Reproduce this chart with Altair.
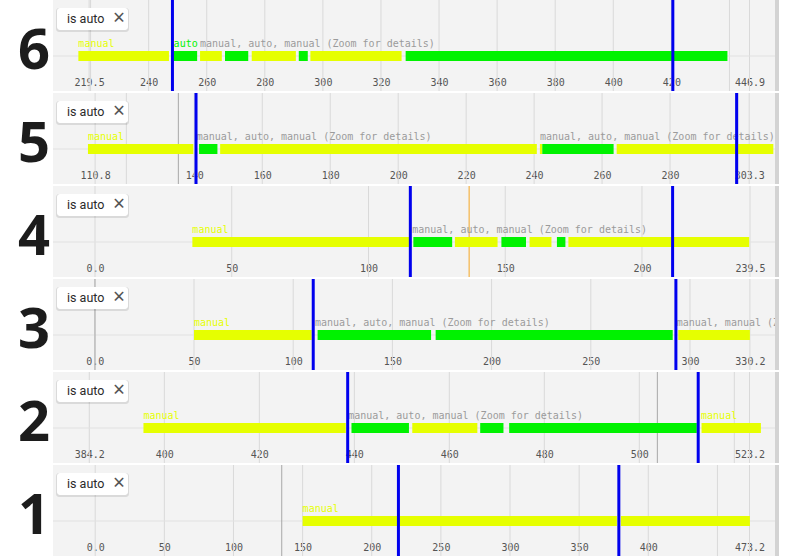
import altair as alt
import pandas as pd

# ---------------- data ----------------
PANEL_IDS = ["6", "5", "4", "3", "2", "1"]

EXT = {
    "6": (219.5, 446.9),
    "5": (110.8, 303.3),
    "4": (0.0, 239.5),
    "3": (0.0, 330.2),
    "2": (384.2, 523.2),
    "1": (0.0, 473.2),
}

TICKS = {
    "6": [219.5, 220, 240, 260, 280, 300, 320, 340, 360, 380, 400, 420, 440, 446.9],
    "5": [110.8, 120, 140, 160, 180, 200, 220, 240, 260, 280, 300, 303.3],
    "4": [0, 50, 100, 150, 200, 239.5],
    "3": [0, 50, 100, 150, 200, 250, 300, 330.2],
    "2": [384.2, 400, 420, 440, 460, 480, 500, 520, 523.2],
    "1": [0, 50, 100, 150, 200, 250, 300, 350, 400, 450, 473.2],
}
HIDDEN_LABELS = {"6": [220, 440], "5": [120, 300], "4": [], "3": [], "2": [520], "1": [450]}

SEG_6 = [(215.8, 247.0, "manual"), (248.6, 256.7, "auto"), (257.7, 265.2, "manual"),
         (266.3, 274.3, "auto"), (275.5, 290.7, "manual"), (291.7, 294.8, "auto"),
         (295.7, 327.1, "manual"), (328.5, 439.3, "auto")]
SEG_5 = [(108.7, 139.7, "manual"), (141.4, 146.8, "auto"), (147.6, 240.8, "manual"),
         (241.7, 242.4, "manual"), (242.4, 263.4, "auto"), (264.3, 310.4, "manual")]
SEG_4 = [(35.6, 114.8, "manual"), (116.4, 130.6, "auto"), (131.6, 147.2, "manual"),
         (148.6, 157.6, "auto"), (158.9, 166.9, "manual"), (168.9, 172.0, "auto"),
         (173.1, 239.2, "manual")]
SEG_3 = [(50.0, 109.3, "manual"), (112.3, 169.5, "auto"), (171.8, 291.3, "auto"),
         (294.1, 330.2, "manual")]
SEG_2 = [(395.6, 438.2, "manual"), (439.4, 451.5, "auto"), (452.2, 465.9, "manual"),
         (466.5, 471.4, "auto"), (472.6, 512.1, "auto"), (513.1, 525.6, "manual")]
SEG_1 = [(150.0, 377.3, "manual"), (380.2, 473.5, "manual")]
SEGMENTS = {"6": SEG_6, "5": SEG_5, "4": SEG_4, "3": SEG_3, "2": SEG_2, "1": SEG_1}

MIXED = "manual, auto, manual (Zoom for details)"
LABELS = {
    "6": [(215.8, "manual", "manual"), (248.6, "auto", "auto"), (257.7, MIXED, "mixed")],
    "5": [(108.7, "manual", "manual"), (140.7, MIXED, "mixed"), (241.7, MIXED, "mixed")],
    "4": [(35.6, "manual", "manual"), (116.0, MIXED, "mixed")],
    "3": [(50.0, "manual", "manual"), (111.0, MIXED, "mixed"),
          (293.3, "manual, manual (Zoom for details)", "mixed")],
    "2": [(395.6, "manual", "manual"), (438.7, MIXED, "mixed"), (513.0, "manual", "manual")],
    "1": [(150.0, "manual", "manual")],
}

CURSORS = {"6": [248.2, 420.5], "5": [140.5, 299.6], "4": [115.3, 211.2],
           "3": [110.1, 292.9], "2": [438.6, 512.4], "1": [219.3, 378.7]}

GRAY_MARKERS = {"6": [], "5": [135.3], "4": [], "3": [0.1], "2": [503.8], "1": [134.9]}
ORANGE_MARKERS = {"6": [], "5": [], "4": [136.8], "3": [], "2": [], "1": []}

# ---------------- layout / style ----------------
PANEL_LEFT = 53
PW, PH = 726, 91
PIX_RANGE = {"6": (89.1, 749.5), "5": (95.1, 749.2), "4": (95.0, 750.0),
             "3": (94.8, 749.9), "2": (89.3, 749.5), "1": (95.2, 749.5)}
YELLOW = "#e6ff00"
GREEN = "#00f200"
GRAY_TXT = "#9b9b9b"
BLUE = "#0000ee"
MONO = "DejaVu Sans Mono"

one = pd.DataFrame({"k": [0]})


def panel(pid):
    lo, hi = EXT[pid]
    r0, r1 = PIX_RANGE[pid]
    hidden = "[" + ",".join(str(h) for h in HIDDEN_LABELS[pid]) + "]"
    label_expr = (f"indexof({hidden}, datum.value) >= 0 ? '' : "
                  f"((datum.value == {lo} || datum.value == {hi}) ? format(datum.value, '.1f') : format(datum.value, 'd'))")
    axis = alt.Axis(values=TICKS[pid], labelExpr=label_expr, title=None, ticks=False,
                    domain=False, grid=False,
                    labelFont=MONO, labelFontSize=10, labelColor="#555555",
                    labelFlush=False, labelOverlap=False, labelPadding=0,
                    labelBaseline="middle", offset=-9)
    scale = alt.Scale(domain=[lo, hi], range=[r0 - PANEL_LEFT, r1 - PANEL_LEFT],
                      zero=False, nice=False)
    cscale = alt.Scale(domain=["manual", "auto", "mixed"], range=[YELLOW, GREEN, GRAY_TXT])

    segs = pd.DataFrame(SEGMENTS[pid], columns=["start", "end", "mode"])
    labs = pd.DataFrame(LABELS[pid], columns=["x", "text", "mode"])
    curs = pd.DataFrame({"x": CURSORS[pid]})
    grid = pd.DataFrame({"x": TICKS[pid]})

    layers = []
    # white margin left of the panel, holding the big panel number
    layers.append(alt.Chart(one).mark_rect(color="#ffffff").encode(
        x=alt.value(-PANEL_LEFT), x2=alt.value(0), y=alt.value(0), y2=alt.value(PH)))
    layers.append(alt.Chart(pd.DataFrame({"n": [pid]})).mark_text(
        font="Noto Sans", fontWeight="bold", fontSize=56, color="#1c1c1c",
        align="center", baseline="alphabetic").encode(
        text="n:N", x=alt.value(34 - PANEL_LEFT), y=alt.value(69)))
    # vertical grid lines at the axis tick values
    layers.append(alt.Chart(grid).mark_tick(color="#d9d9d9", thickness=1, size=PH, opacity=1).encode(
        x=alt.X("x:Q", scale=scale, axis=axis)))
    # horizontal track line
    layers.append(alt.Chart(one).mark_rect(color="#e2e2e2").encode(
        x=alt.value(0), x2=alt.value(PW - 4), y=alt.value(55.5), y2=alt.value(56.5)))
    for vals, col in ((GRAY_MARKERS[pid], "#a8a8a8"), (ORANGE_MARKERS[pid], "#f5a623")):
        if vals:
            layers.append(alt.Chart(pd.DataFrame({"x": vals})).mark_tick(
                color=col, thickness=1, size=PH, opacity=1).encode(
                x=alt.X("x:Q", scale=scale, axis=axis)))
    layers.append(alt.Chart(segs).mark_rect().encode(
        x=alt.X("start:Q", scale=scale, axis=axis), x2="end:Q",
        y=alt.value(51), y2=alt.value(61),
        color=alt.Color("mode:N", scale=cscale, legend=None)))
    layers.append(alt.Chart(labs).mark_text(align="left", baseline="alphabetic", font=MONO,
                                            fontSize=10, clip=True).encode(
        x=alt.X("x:Q", scale=scale, axis=axis), y=alt.value(47), text="text:N",
        color=alt.Color("mode:N", scale=cscale, legend=None)))
    layers.append(alt.Chart(curs).mark_tick(color=BLUE, thickness=3, size=PH, opacity=1).encode(
        x=alt.X("x:Q", scale=scale, axis=axis)))
    # filter chip
    layers.append(alt.Chart(one).mark_rect(color="#000000", opacity=0.10, cornerRadius=3).encode(
        x=alt.value(3), x2=alt.value(76), y=alt.value(8), y2=alt.value(32)))
    layers.append(alt.Chart(one).mark_rect(color="#ffffff", cornerRadius=3).encode(
        x=alt.value(4), x2=alt.value(75), y=alt.value(8), y2=alt.value(30)))
    layers.append(alt.Chart(one).mark_text(text="is auto", font="Roboto", fontSize=12.5,
                                           color="#2a2a2a", align="left", baseline="middle").encode(
        x=alt.value(14), y=alt.value(19)))
    layers.append(alt.Chart(one).mark_text(text="\u00d7", font="Noto Sans", fontSize=21,
                                           color="#555555", align="center",
                                           baseline="middle").encode(
        x=alt.value(66), y=alt.value(18.5)))
    # right edge strip
    layers.append(alt.Chart(one).mark_rect(color="#d3d3d3").encode(
        x=alt.value(PW - 4), x2=alt.value(PW), y=alt.value(0), y2=alt.value(PH)))

    return alt.layer(*layers).properties(
        width=PW, height=PH,
        view=alt.ViewBackground(fill="#f3f3f3", stroke="transparent", strokeWidth=0))


rows = [panel(p) for p in PANEL_IDS]
chart = alt.vconcat(*rows, spacing=2, bounds="flush").properties(padding=0).configure_view(
    stroke="transparent", strokeWidth=0).configure(background="#ffffff")

chart.save("out.html", embed_options={"renderer": "svg", "actions": False})
